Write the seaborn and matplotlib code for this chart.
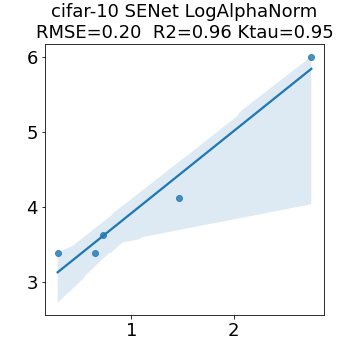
import matplotlib
matplotlib.use("Agg")
import matplotlib.pyplot as plt
import seaborn as sns
import pandas as pd

# data
x_vals = [0.277, 0.644, 0.723, 1.465, 2.762]
y_vals = [3.39, 3.39, 3.63, 4.12, 6.01]

title = "cifar-10 SENet LogAlphaNorm\nRMSE=0.20  R2=0.96 Ktau=0.95"

df = pd.DataFrame({"x": x_vals, "y": y_vals})

fig, ax = plt.subplots(figsize=(5, 5), dpi=72)
sns.regplot(data=df, x="x", y="y", ax=ax, seed=0)
ax.set_title(title, fontsize=18)
ax.set_xlabel("")
ax.set_ylabel("")
ax.set_xticks([1, 2])
ax.set_yticks([3, 4, 5, 6])
ax.tick_params(labelsize=18)
plt.subplots_adjust(left=0.125, right=0.9, bottom=0.125, top=0.878)
plt.savefig("out.png", dpi=72)
